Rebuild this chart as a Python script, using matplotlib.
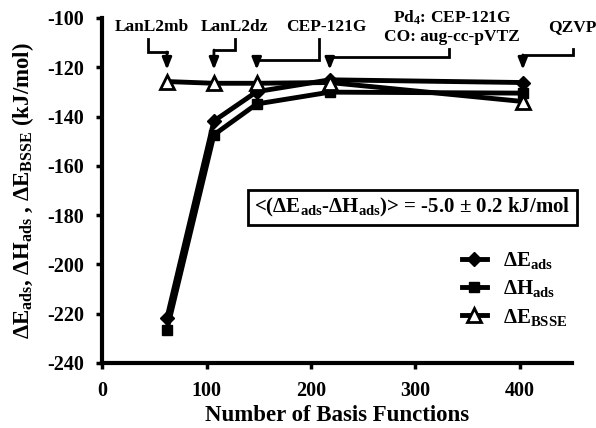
import matplotlib
matplotlib.use("Agg")
import matplotlib.pyplot as plt
from matplotlib.lines import Line2D

plt.rcParams['font.family'] = ['Liberation Serif', 'DejaVu Serif']
plt.rcParams['font.weight'] = 'bold'
plt.rcParams['mathtext.fontset'] = 'custom'
plt.rcParams['mathtext.rm'] = 'Liberation Serif:bold'
plt.rcParams['mathtext.it'] = 'Liberation Serif:bold'
plt.rcParams['mathtext.bf'] = 'Liberation Serif:bold'
plt.rcParams['axes.unicode_minus'] = False

# ---- data ----
basis_functions = [62, 107, 148, 218, 403]
E_ads = [-221.7, -141.8, -129.9, -125.1, -126.2]
H_ads = [-226.5, -147.4, -134.9, -130.1, -130.5]
E_bsse = [-125.8, -126.5, -126.5, -126.2, -133.9]
basis_labels = ["LanL2mb", "LanL2dz", "CEP-121G",
                "Pd$_4$: CEP-121G\nCO: aug-cc-pVTZ", "QZVP"]
x_ticks = [0, 100, 200, 300, 400]
y_ticks = [-100, -120, -140, -160, -180, -200, -220, -240]

fig = plt.figure(figsize=(5.96, 4.28), dpi=100)
ax = fig.add_axes([0.1716, 0.152, 0.788, 0.806])

lw = 3.5
ax.plot(basis_functions, E_ads, color='black', lw=lw, marker='D', ms=7,
        mfc='black', mec='black', label=r'ΔE$_{\mathrm{ads}}$', zorder=3)
ax.plot(basis_functions, H_ads, color='black', lw=lw, marker='s', ms=7,
        mfc='black', mec='black', label=r'ΔH$_{\mathrm{ads}}$', zorder=3)
ax.plot(basis_functions, E_bsse, color='black', lw=lw, marker='^', ms=10,
        mfc='white', mec='black', mew=2, label=r'ΔE$_{\mathrm{BSSE}}$', zorder=4)

ax.set_xlim(0, 450)
ax.set_ylim(-240, -100)
ax.set_xticks(x_ticks)
ax.set_yticks(y_ticks)
ax.tick_params(axis='both', labelsize=14.5, width=2.5, length=4, direction='out')
ax.tick_params(axis='y', pad=9)
ax.tick_params(axis='x', pad=9)
for lab in ax.get_xticklabels() + ax.get_yticklabels():
    lab.set_fontweight('bold')
ax.spines['top'].set_visible(False)
ax.spines['right'].set_visible(False)
ax.spines['left'].set_linewidth(3)
ax.spines['bottom'].set_linewidth(3)

ax.set_xlabel('Number of Basis Functions', fontsize=16.5, fontweight='bold', labelpad=3)
ax.set_ylabel(r'ΔE$_{\mathrm{ads}}$, ΔH$_{\mathrm{ads}}$ , ΔE$_{\mathrm{BSSE}}$ (kJ/mol)',
              fontsize=16.5, fontweight='bold', labelpad=8)

# annotations: (text x, text y, elbow start x, start y, elbow y)
ann_layout = [
    (47.6, -103.6, 43.8, -108.7, -113.8),
    (127.0, -103.6, 127.0, -108.7, -113.0),
    (215.0, -103.6, 207.6, -108.7, -117.0),
    (335.0, -103.6, 332.0, -112.5, -115.8),
    (450.0, -103.6, 451.0, -112.5, -115.0),
]
tip_y = -121.0
for i, (lab, (tx, ty, sx, sy, ey)) in enumerate(zip(basis_labels, ann_layout)):
    ax.text(tx, ty, lab, ha='center', va='center', fontsize=12.5,
            fontweight='bold', clip_on=False, linespacing=1.1)
    px = basis_functions[i]
    ax.add_line(Line2D([sx, sx, px], [sy, ey, ey], color='black', lw=2,
                       clip_on=False, solid_joinstyle='miter'))
    ax.annotate('', xy=(px, tip_y), xytext=(px, ey),
                arrowprops=dict(arrowstyle='-|>,head_length=0.7,head_width=0.28',
                                color='black', lw=2, shrinkA=0, shrinkB=0),
                annotation_clip=False)

ax.text(297, -177,
        r'<(ΔE$_{\mathrm{ads}}$-ΔH$_{\mathrm{ads}}$)> = -5.0 ± 0.2 kJ/mol',
        ha='center', va='center', fontsize=15, fontweight='bold',
        bbox=dict(boxstyle='square,pad=0.3', fc='white', ec='black', lw=2))

leg = ax.legend(loc='center left', bbox_to_anchor=(0.725, 0.215), frameon=False,
                fontsize=15, handlelength=1.2, labelspacing=0.35,
                handletextpad=0.8)
for t in leg.get_texts():
    t.set_fontweight('bold')

fig.savefig('out.png', dpi=100)
